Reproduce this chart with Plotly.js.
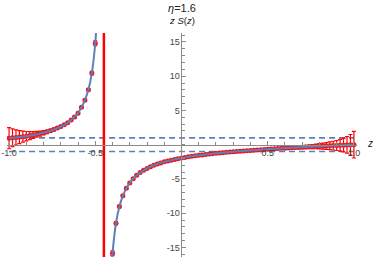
<!DOCTYPE html>
<html>
<head>
<meta charset="utf-8">
<script src="https://cdn.plot.ly/plotly-3.0.1.min.js"></script>
<style>html,body{margin:0;padding:0;background:#fff;}#chart{width:374px;height:257px;}</style>
</head>
<body>
<div id="chart"></div>
<script>
// ---- data ----
const leftZ = [-1.00,-0.98,-0.96,-0.94,-0.92,-0.90,-0.88,-0.86,-0.84,-0.82,-0.80,-0.78,-0.76,-0.74,-0.72,-0.70,-0.68,-0.66,-0.64,-0.62,-0.60,-0.58,-0.56,-0.54,-0.52,-0.50];
const leftV = [0.95,1.00,1.05,1.11,1.17,1.24,1.32,1.41,1.51,1.62,1.74,1.88,2.04,2.22,2.42,2.65,2.90,3.20,3.60,4.05,4.60,5.45,6.50,8.00,10.45,14.80];
const leftErr = [1.55,1.30,1.10,0.95,0.80,0.68,0.58,0.50,0.42,0.36,0.30,0.26,0.22,0.19,0.17,0.15,0.14,0.13,0.13,0.13,0.14,0.15,0.17,0.20,0.25,0.35];

const rightZ = [-0.40,-0.38,-0.36,-0.34,-0.32,-0.30,-0.28,-0.26,-0.24,-0.22,-0.20,-0.18,-0.16,-0.14,-0.12,-0.10,-0.08,-0.06,-0.04,-0.02,
  0.00,0.02,0.04,0.06,0.08,0.10,0.12,0.14,0.16,0.18,0.20,0.22,0.24,0.26,0.28,0.30,0.32,0.34,0.36,0.38,0.40,0.42,0.44,0.46,0.48,
  0.50,0.52,0.54,0.56,0.58,0.60,0.62,0.64,0.66,0.68,0.70,0.72,0.74,0.76,0.78,0.80,0.82,0.84,0.86,0.88,0.90,0.92,0.94,0.96,0.98,1.00];
const rightV = [-15.86,-11.47,-9.03,-7.47,-6.38,-5.58,-4.97,-4.48,-4.08,-3.75,-3.47,-3.22,-3.01,-2.83,-2.66,-2.51,-2.38,-2.26,-2.15,-2.05,
  -1.95,-1.86,-1.78,-1.70,-1.63,-1.56,-1.50,-1.44,-1.38,-1.32,-1.27,-1.22,-1.17,-1.12,-1.08,-1.04,-0.99,-0.95,-0.91,-0.88,-0.84,-0.80,-0.77,-0.73,-0.70,
  -0.67,-0.63,-0.60,-0.57,-0.54,-0.51,-0.48,-0.45,-0.42,-0.40,-0.37,-0.34,-0.32,-0.29,-0.26,-0.24,-0.21,-0.19,-0.16,-0.14,-0.12,-0.09,-0.07,-0.04,-0.02,0.00];
const rightErr = [0.35,0.25,0.20,0.17,0.15,0.13,0.12,0.12,0.12,0.12,0.12,0.12,0.12,0.12,0.12,0.12,0.12,0.12,0.12,0.12,
  0.12,0.12,0.12,0.12,0.12,0.12,0.12,0.12,0.12,0.12,0.12,0.12,0.12,0.12,0.12,0.12,0.12,0.12,0.12,0.12,0.12,0.12,0.12,0.12,0.12,
  0.12,0.12,0.12,0.12,0.12,0.12,0.13,0.14,0.16,0.18,0.20,0.23,0.26,0.30,0.34,0.38,0.43,0.49,0.56,0.64,0.73,0.85,1.00,1.20,1.50,1.95];

// theory curve continues past the data toward the pole
const poleEdgeZ = [-0.49, -0.405];
const poleEdgeV = [18.7, -17.57];
const poleZ = [-0.45];
const refLevels = [1, -1];
const refSpan = [-1, 1];

const xTickVals = [-1, -0.5, 0.5, 1];
const xTickText = ['-1.0', '-0.5', '0.5', '1.0'];
const yTickVals = [-15, -10, -5, 5, 10, 15];
const yTickText = ['-15', '-10', '-5', '5', '10', '15'];

// ---- traces ----
const blue = 'rgb(94,129,181)';
const red = 'rgb(255,0,0)';
const traces = [];

refLevels.forEach(lv => traces.push({
  x: refSpan, y: refSpan.map(() => lv), mode: 'lines', hoverinfo: 'skip',
  line: {color: blue, width: 1.7, dash: '6px,4px'}
}));

traces.push({
  x: leftZ.concat(rightZ), y: leftV.concat(rightV), mode: 'markers',
  marker: {color: 'rgb(240,20,30)', size: 5},
  error_y: {type: 'data', array: leftErr.concat(rightErr), visible: true, color: 'rgb(255,0,0)', thickness: 1.2, width: 2}
});

const curveZ = leftZ.concat([poleEdgeZ[0], null, poleEdgeZ[1]], rightZ);
const curveV = leftV.concat([poleEdgeV[0], null, poleEdgeV[1]], rightV);
traces.push({
  x: curveZ, y: curveV, mode: 'lines', connectgaps: false,
  line: {color: blue, width: 2, shape: 'spline', smoothing: 0.5}
});

const yRange = [-16.4, 16.3];
const xRange = [-1.012, 1.018];
traces.push({
  x: [poleZ[0], poleZ[0]], y: yRange, mode: 'lines',
  line: {color: red, width: 2.5}
});

const axisCol = '#8a8a8a';
const fontFam = 'Liberation Sans, Arial, sans-serif';
const layout = {
  width: 374, height: 257,
  margin: {l: 7, r: 17, t: 33, b: 0},
  paper_bgcolor: '#fff', plot_bgcolor: '#fff',
  showlegend: false,
  font: {family: fontFam, color: '#444'},
  title: {text: '<i>η</i>=1.6', font: {size: 11, color: '#222', family: fontFam},
    x: 0.4866, xanchor: 'center', xref: 'container', y: 0.969, yanchor: 'middle', yref: 'container'},
  xaxis: {
    range: xRange, anchor: 'free', position: (0 - yRange[0]) / (yRange[1] - yRange[0]),
    showline: true, linecolor: axisCol, linewidth: 1,
    ticks: 'inside', ticklen: 4, tickcolor: axisCol, tickwidth: 1,
    tickmode: 'array', tickvals: xTickVals, ticktext: xTickText,
    tickfont: {size: 9, color: '#444'},
    minor: {ticks: 'inside', tickmode: 'linear', tick0: 0, dtick: 0.1, ticklen: 2.5, tickcolor: axisCol, showgrid: false},
    showgrid: false, zeroline: false, fixedrange: true
  },
  yaxis: {
    range: yRange, anchor: 'free', position: (0 - xRange[0]) / (xRange[1] - xRange[0]),
    showline: true, linecolor: axisCol, linewidth: 1,
    ticks: 'inside', ticklen: 4, tickcolor: axisCol, tickwidth: 1,
    tickmode: 'array', tickvals: yTickVals, ticktext: yTickText,
    tickfont: {size: 9, color: '#444'},
    minor: {ticks: 'inside', tickmode: 'linear', tick0: 0, dtick: 1, ticklen: 2.5, tickcolor: axisCol, showgrid: false},
    showgrid: false, zeroline: false, fixedrange: true
  },
  annotations: [
    {text: '<i>z S</i>(<i>z</i>)', xref: 'paper', yref: 'paper', x: 0.5, y: 1.0536,
      xanchor: 'center', yanchor: 'middle', showarrow: false, font: {size: 9.5, color: '#222'}},
    {text: '<i>z</i>', xref: 'paper', yref: 'paper', x: 1.037, y: 0.5045,
      xanchor: 'center', yanchor: 'middle', showarrow: false, font: {size: 10, color: '#222'}}
  ]
};

Plotly.newPlot('chart', traces, layout, {staticPlot: true, displayModeBar: false});
</script>
</body>
</html>
